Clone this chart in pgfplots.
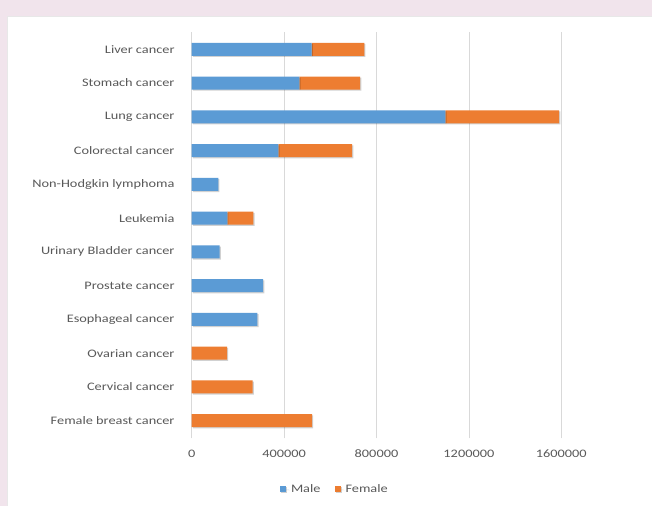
\documentclass[border=0pt]{standalone}
\usepackage{pgfplots}
\pgfplotsset{compat=1.18}
\usepackage{fontspec}
\setmainfont{Carlito}[FakeStretch=1.25]
\definecolor{bgpink}{RGB}{241,228,236}
\definecolor{maleblue}{RGB}{91,155,213}
\definecolor{femorange}{RGB}{237,125,49}
\definecolor{gridgray}{RGB}{217,217,217}
\definecolor{txtgray}{RGB}{89,89,89}
\begin{document}
\begin{tikzpicture}
\fill[bgpink] (0,0) rectangle (652bp,506bp);
\fill[white] (7bp,0) rectangle (652bp,490bp);
\draw[gridgray!60, line width=0.5bp] (7bp,0) -- (7bp,490bp) -- (652bp,490bp);
\begin{axis}[
  at={(191.7bp,67.7bp)}, anchor=south west,
  scale only axis, width=460.3bp, height=406.6bp,
  xbar stacked, bar width=0.385,
  xmin=0, xmax=1992700, ymin=-0.52, ymax=11.52,
  xtick={0,400000,800000,1200000,1600000},
  scaled x ticks=false,
  xticklabel style={/pgf/number format/fixed, /pgf/number format/1000 sep={}},
  /pgf/number format/assume math mode=true,
  ytick={0,...,11},
  yticklabels={Female breast cancer, Cervical cancer, Ovarian cancer, Esophageal cancer, Prostate cancer, Urinary Bladder cancer, Leukemia, Non-Hodgkin lymphoma, Colorectal cancer, Lung cancer, Stomach cancer, Liver cancer},
  xmajorgrids, grid style={gridgray, line width=0.75bp},
  axis line style={draw=none},
  major tick length=0pt,
  tick label style={font=\fontsize{11.5}{13}\selectfont, text=txtgray},
  yticklabel style={xshift=-13.7bp},
  xticklabel style={yshift=-8bp},
  legend style={at={(0.311,-0.125)}, anchor=center, draw=none, fill=none,
    font=\fontsize{11.5}{13}\selectfont, text=txtgray, legend columns=2,
    /tikz/every even column/.append style={column sep=12bp}},
  legend image code/.code={\fill (0bp,-3bp) rectangle (6bp,3bp); \path (0bp,0bp) -- (9bp,0bp);},
  every axis plot/.append style={draw=none,
    preaction={fill=black, opacity=0.18, transform canvas={xshift=1.2bp, yshift=-1.2bp}}},
]
\addplot[fill=maleblue] coordinates {
 (0,0) (0,1) (0,2) (284000,3) (309000,4) (121000,5) (154000,6) (115000,7) (375000,8) (1098000,9) (466000,10) (519000,11)};
\addplot[fill=femorange] coordinates {
 (521000,0) (264000,1) (153000,2) (0,3) (0,4) (0,5) (113000,6) (0,7) (320000,8) (493000,9) (263000,10) (228000,11)};
\legend{Male, Female}
\end{axis}
\pgfresetboundingbox
\path (0,0) rectangle (652bp,506bp);
\end{tikzpicture}
\end{document}
